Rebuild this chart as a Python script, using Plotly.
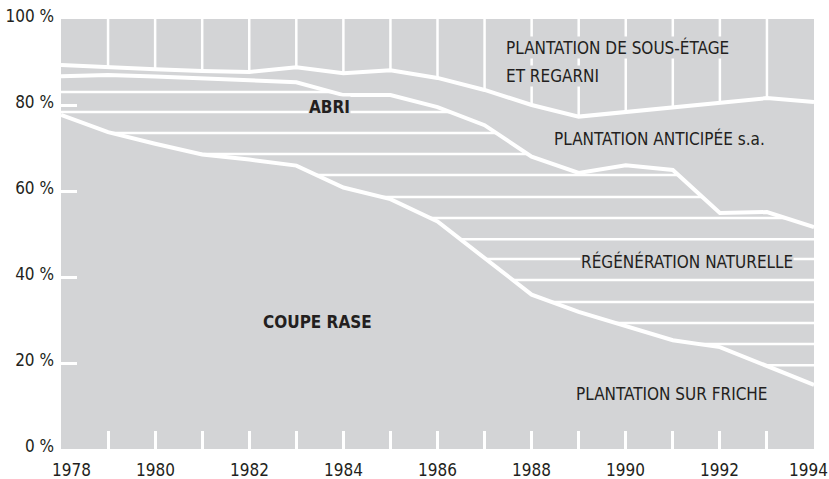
import numpy as np
import plotly.graph_objects as go

# years on the x axis
years = list(range(1978, 1995))

# upper edge of each band (percent)
coupe_rase_top = [77.7, 73.7, 71.0, 68.5, 67.3, 65.9, 60.8, 58.1, 52.9,
                  44.5, 35.9, 31.9, 28.6, 25.3, 23.7, 19.2, 14.9]
regeneration_top = [86.7, 87.0, 86.6, 86.2, 85.8, 85.3, 82.3, 82.3, 79.5,
                    75.3, 68.0, 64.2, 66.0, 64.9, 54.9, 55.1, 51.6]
anticipee_top = [89.3, 88.7, 88.3, 87.9, 87.7, 88.8, 87.4, 88.1, 86.3,
                 83.5, 80.0, 77.3, 78.4, 79.5, 80.5, 81.6, 80.7]

# levels of the horizontal hatching in the regeneration band
hatch_levels = [83.0, 78.4, 73.5, 68.6, 63.7, 58.6, 53.7, 48.8, 44.2,
                39.3, 34.2, 29.3, 24.4, 19.5]

y_ticks = [0, 20, 40, 60, 80, 100]
y_tick_labels = ["0 %", "20 %", "40 %", "60 %", "80 %", "100 %"]

GREY = "#d3d4d6"
INK = "#231f20"
FONT = "DejaVu Sans Condensed, sans-serif"
SIZE = 17

fig = go.Figure()

# vertical hatching in the top band (sous-etage)
vx, vy = [], []
for yr, top in zip(years[1:-1], anticipee_top[1:-1]):
    vx += [yr, yr, None]
    vy += [top, 100, None]
fig.add_trace(go.Scatter(x=vx, y=vy, mode="lines",
                         line=dict(color="white", width=2.5),
                         hoverinfo="skip", showlegend=False))

# horizontal hatching between coupe rase and regeneration edges
xs = np.linspace(years[0], years[-1], 3201)
lo = np.interp(xs, years, coupe_rase_top)
hi = np.interp(xs, years, regeneration_top)
hx, hy = [], []
for lvl in hatch_levels:
    inside = (lo < lvl) & (hi > lvl)
    hx += list(xs) + [None]
    hy += [lvl if k else None for k in inside] + [None]
fig.add_trace(go.Scatter(x=hx, y=hy, mode="lines",
                         line=dict(color="white", width=2.5),
                         connectgaps=False,
                         hoverinfo="skip", showlegend=False))

# band edges
for edge in [coupe_rase_top, regeneration_top, anticipee_top]:
    fig.add_trace(go.Scatter(x=years, y=edge, mode="lines",
                             line=dict(color="white", width=4),
                             hoverinfo="skip", showlegend=False))

# band labels
labels = [
    ("PLANTATION DE SOUS-ÉTAGE", 1987.43, 93.3, "left", False),
    ("ET REGARNI", 1987.43, 86.7, "left", False),
    ("ABRI", 1983.7, 79.5, "center", True),
    ("PLANTATION ANTICIPÉE s.a.", 1988.45, 72.1, "left", False),
    ("RÉGÉNÉRATION NATURELLE", 1991.3, 43.5, "center", False),
    ("COUPE RASE", 1983.46, 29.5, "center", True),
    ("PLANTATION SUR FRICHE", 1990.98, 12.8, "center", False),
]
for txt, x, y, anchor, bold in labels:
    fig.add_annotation(x=x, y=y, text="<b>%s</b>" % txt if bold else txt,
                       showarrow=False, xanchor=anchor, yanchor="middle",
                       bgcolor=GREY, borderpad=0,
                       font=dict(family=FONT, size=SIZE, color=INK))

# year labels under the axis
for yr in range(1978, 1995, 2):
    shift = 10 if yr == 1978 else (-6 if yr == 1994 else 0)
    fig.add_annotation(x=yr, y=0, yref="paper", text=str(yr),
                       showarrow=False, xanchor="center", yanchor="middle",
                       yshift=-21, xshift=shift,
                       font=dict(family=FONT, size=SIZE, color=INK))

fig.update_xaxes(range=[1978, 1994], showgrid=False, zeroline=False,
                 showline=False, tickmode="array", tickvals=years[1:-1],
                 ticks="inside", ticklen=18, tickwidth=2.5, tickcolor="white",
                 showticklabels=False, automargin=False)
fig.update_yaxes(range=[0, 100], showgrid=False, zeroline=False,
                 showline=False, tickmode="array", tickvals=y_ticks,
                 ticktext=y_tick_labels, ticks="inside", ticklen=16,
                 tickwidth=2.5, tickcolor="white", ticklabelshift=-3,
                 ticklabelstandoff=6, automargin=False,
                 tickfont=dict(family=FONT, size=SIZE, color=INK))

fig.update_layout(width=829, height=479,
                  margin=dict(l=61, r=15, t=19, b=30),
                  paper_bgcolor="white", plot_bgcolor=GREY)

# drop the default page margin so the figure sits at the window corner
fig.write_html("out.html", config={"displayModeBar": False},
               post_script="document.body.style.margin='0';")
